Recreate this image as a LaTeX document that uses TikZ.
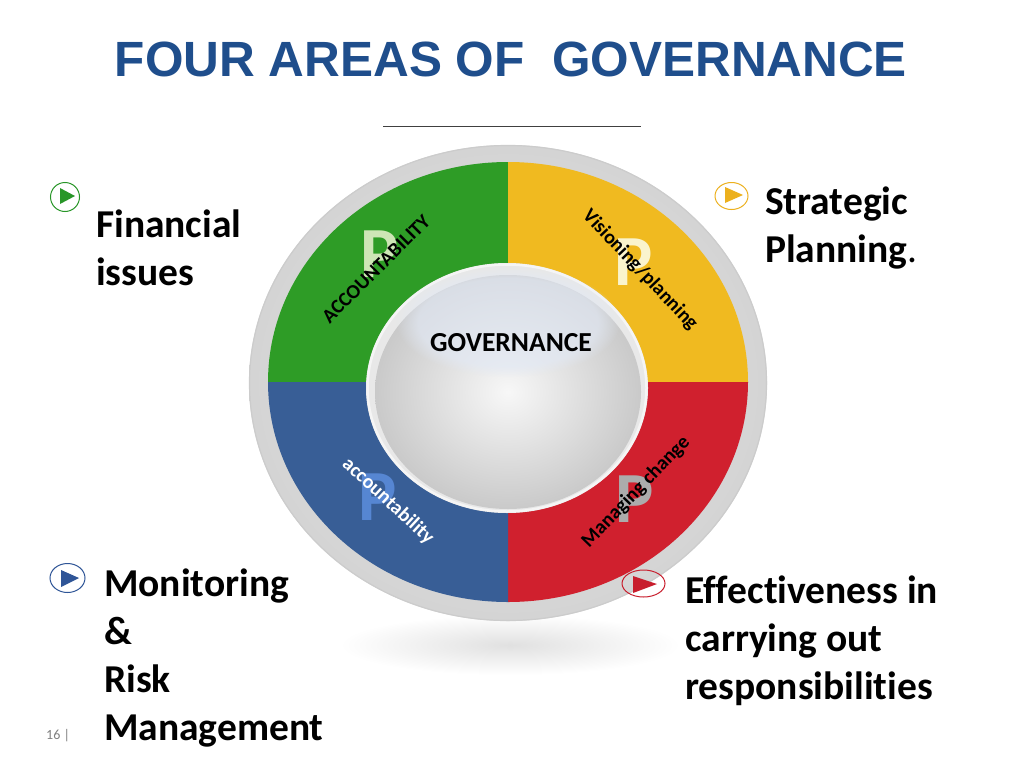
\documentclass[tikz,border=0pt]{standalone}
\usepackage{fontspec}
\usetikzlibrary{fadings}
\setmainfont{Carlito}[Ligatures=NoCommon]
\newfontfamily\titlefont{Liberation Sans}
\definecolor{titleblue}{RGB}{31,78,140}
\definecolor{qgreen}{RGB}{46,156,38}
\definecolor{qyellow}{RGB}{240,186,32}
\definecolor{qblue}{RGB}{56,94,150}
\definecolor{qred}{RGB}{208,32,46}
\definecolor{pgreen}{RGB}{206,230,182}
\definecolor{pyellow}{RGB}{250,244,205}
\definecolor{pblue}{RGB}{86,134,210}
\definecolor{pred}{RGB}{172,172,172}
\definecolor{ringgray}{RGB}{220,220,220}
\definecolor{iconblue}{RGB}{47,85,151}
\definecolor{iconyellow}{RGB}{236,176,30}
\definecolor{iconred}{RGB}{200,30,45}
\definecolor{icongreen}{RGB}{40,150,40}
\definecolor{glow}{RGB}{226,233,245}
\begin{document}
\begin{tikzpicture}[x=1pt,y=-1pt,
  title/.style={anchor=base, inner sep=0pt, text=titleblue, font=\titlefont\bfseries\fontsize{49.5}{56}\selectfont},
  rule/.style={line width=0.9pt, draw=black!75},
  sidetext/.style={anchor=base west, inner sep=0pt, align=left, font=\bfseries\fontsize{39.5}{48}\selectfont},
  quadlbl/.style={inner sep=0pt, font=\bfseries\fontsize{20}{22}\selectfont},
  bigP/.style={inner sep=0pt, font=\bfseries\fontsize{72}{80}\selectfont},
  iconring/.style={line width=1pt},
  govlbl/.style={inner sep=0pt, font=\bfseries\fontsize{27.5}{32}\selectfont},
  pagenum/.style={anchor=base west, inner sep=0pt, text=black!50, font=\fontsize{14}{16}\selectfont}]
\useasboundingbox (0,0) rectangle (1024,768);
\fill[white] (0,0) rectangle (1024,768);

% title and rule
\node[title] (ttl) at (511,77) {FOUR AREAS OF\ \ GOVERNANCE};
\coordinate (rl) at (383,126);
\coordinate (rr) at (641,126);
\draw[rule] (rl) -- (rr);

% soft shadow under the wheel
\shade[inner color=black!12, outer color=white] (510,645) ellipse [x radius=170, y radius=30];

% outer grey ring
\shade[inner color=black!8, outer color=black!17] (508,383) ellipse [x radius=259, y radius=238];
\draw[black!20, line width=1.2pt] (508,383) ellipse [x radius=258.5, y radius=237.5];

% quadrants
\coordinate (c) at (508,382);
\fill[qgreen] (c) -- ++(-240,0) arc[start angle=180, end angle=270, x radius=240, y radius=220] -- cycle;
\fill[qyellow] (c) -- ++(0,-220) arc[start angle=270, end angle=360, x radius=240, y radius=220] -- cycle;
\fill[qred] (c) -- ++(240,0) arc[start angle=0, end angle=90, x radius=240, y radius=220] -- cycle;
\fill[qblue] (c) -- ++(0,220) arc[start angle=90, end angle=180, x radius=240, y radius=220] -- cycle;

% big P letters
\node[bigP, text=pgreen] (pg) at (380,254) {P};
\node[bigP, text=pyellow] (py) at (634,262) {P};
\node[bigP, text=pblue] (pb) at (378,497) {P};
\node[bigP, text=pred] (pr) at (635,499) {P};

% quadrant labels
\node[quadlbl, rotate=45] (la) at (376,269) {ACCOUNTABILITY};
\node[quadlbl, rotate=-46.5] (lv) at (640,270) {Visioning/planning};
\node[quadlbl, rotate=-42.6, text=white] (lb) at (388,501) {accountability};
\node[quadlbl, rotate=46] (lm) at (636,492) {Managing change};

% inner disc
\fill[black!9] (507,388) ellipse [x radius=141, y radius=125];
\draw[white!96!black, line width=2.5pt] (507,388) ellipse [x radius=139.5, y radius=123.5];
\shade[inner color=white!97!black, outer color=black!21] (508,392) ellipse [x radius=133, y radius=117];
\fill[glow, opacity=0.65, path fading=circle with fuzzy edge 20 percent] (508,322) ellipse [x radius=112, y radius=55];
\node[govlbl] (gov) at (511,343) {GOVERNANCE};

% icons
\draw[iconring, draw=icongreen] (65,197) circle [radius=14.5];
\fill[icongreen] (60,188) -- (60,204) -- (75,196) -- cycle;
\draw[iconring, draw=iconyellow] (731.5,196) ellipse [x radius=16.5, y radius=13.5];
\fill[iconyellow] (725,187) -- (725,203) -- (743,195) -- cycle;
\draw[iconring, draw=iconblue] (67.5,578) ellipse [x radius=17.5, y radius=14.5];
\fill[iconblue] (61,570) -- (61,587) -- (79,578) -- cycle;
\draw[iconring, draw=iconred] (643.5,583.5) ellipse [x radius=21.5, y radius=13.5];
\fill[iconred] (633,576) -- (633,593) -- (657,584) -- cycle;

% side texts (base anchor = last line's baseline)
\node[sidetext] (fin) at (96,285) {Financial\\issues};
\node[sidetext] (str) at (765,262) {Strategic\\Planning{\mdseries.}};
\node[sidetext] (mon) at (104,740) {Monitoring\\\&\\Risk\\Management};
\node[sidetext] (eff) at (685,699) {Effectiveness in\\carrying out\\responsibilities};

\node[pagenum] (pg16) at (46,739) {16 |};
\end{tikzpicture}
\end{document}
